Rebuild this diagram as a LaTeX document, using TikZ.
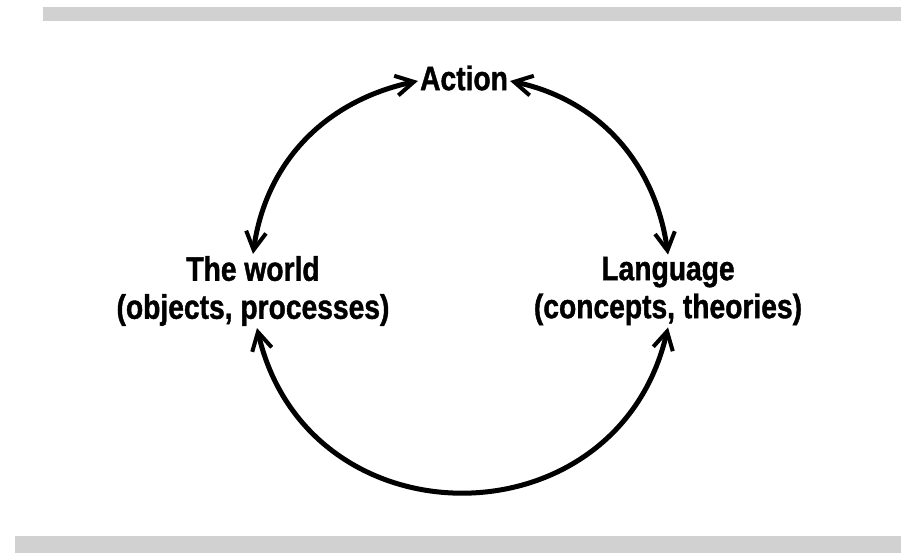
\documentclass[tikz,border=0pt]{standalone}
\usepackage{fontspec}
\setmainfont{Liberation Sans}[FakeStretch=0.83,BoldFeatures={FakeBold=1.2}]
\usetikzlibrary{arrows.meta}

\begin{document}
\begin{tikzpicture}[x=1pt,y=1pt,
    label/.style={font=\bfseries\fontsize{34}{38}\selectfont,align=center,inner sep=2pt},
    link/.style={{Straight Barb[length=18pt,width=20pt,line width=4pt]}-{Straight Barb[length=18pt,width=20pt,line width=4pt]},line width=5pt}]
    \useasboundingbox (0,0) rectangle (901,553);
    \fill[black!18] (43,532) rectangle (901,546);
    \fill[black!18] (15,0) rectangle (901,17);

    \node[label] (action) at (464,475) {Action};
    \node[label] (world) at (253,262) {The world\\(objects, processes)};
    \node[label] (lang) at (668,262) {Language\\(concepts, theories)};

    \draw[link] ([yshift=-3pt]action.west) to[out=192,in=82] (world.north);
    \draw[link] ([yshift=-3pt]action.east) to[out=-12,in=98] (lang.north);
    \draw[link] ([xshift=4pt]world.south) to[out=-77,in=-103,looseness=1.4] (lang.south);
\end{tikzpicture}
\end{document}
